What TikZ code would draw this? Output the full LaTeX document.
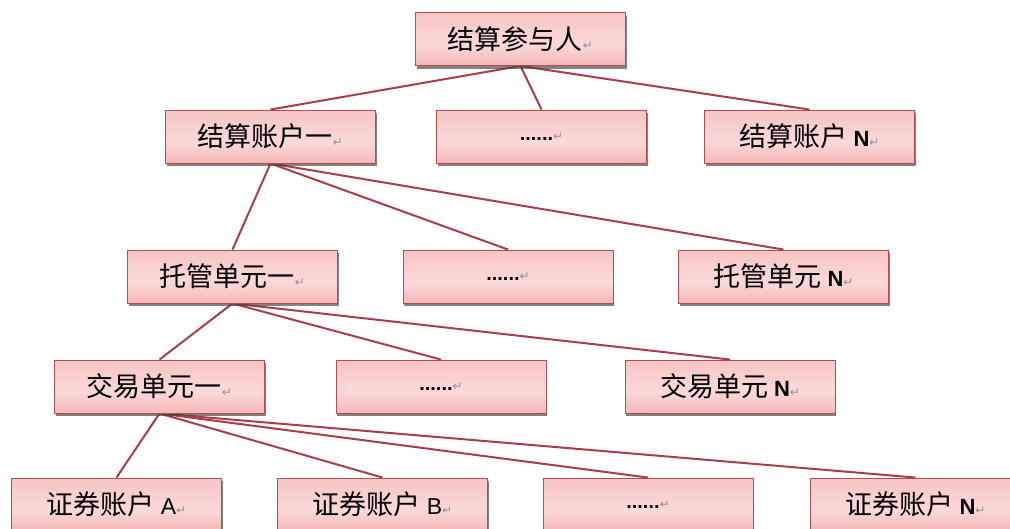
\documentclass[tikz,border=0pt]{standalone}
\usepackage{fontspec}
\setmainfont{Noto Sans CJK SC}
\newfontfamily\latinfont{Liberation Sans}
\newfontfamily\markfont{DejaVu Sans}
\usetikzlibrary{shadows,backgrounds}
\definecolor{pinkT}{HTML}{F6BDBD}
\definecolor{pinkM}{HTML}{FBD9D9}
\definecolor{pinkB}{HTML}{EF8C8C}
\definecolor{boxborder}{HTML}{B04E52}
\definecolor{linkcol}{HTML}{A83E4A}
\definecolor{markgray}{HTML}{909090}
\pgfdeclareverticalshading{boxshade}{100bp}{color(0bp)=(pinkB); color(45bp)=(pinkM); color(85bp)=(pinkT); color(100bp)=(pinkT)}
\newcommand{\rmark}{{\markfont\fontsize{12}{12}\selectfont\color{markgray}↵}}
\newcommand{\lat}[1]{{\latinfont\fontsize{23}{23}\selectfont #1}}
\newcommand{\latb}[1]{{\latinfont\bfseries\fontsize{22}{22}\selectfont #1}}
\newcommand{\dotsx}{{\latinfont\bfseries\fontsize{20}{20}\selectfont ......}}
\tikzset{
  box/.style={draw=boxborder, line width=0.9pt, shading=boxshade,
    minimum width=210pt, minimum height=53pt, inner sep=0pt,
    font=\fontsize{27}{30}\selectfont,
    drop shadow={shadow xshift=1pt, shadow yshift=-3pt, fill=black!75, opacity=.65}},
  link/.style={draw=linkcol, line width=2pt}
}
\begin{document}
\begin{tikzpicture}[x=1pt,y=-1pt]
\useasboundingbox (0,0) rectangle (1010,528);
\clip (0,0) rectangle (1010,528);
% level 1
\node[box] (r) at (520.5,39) {结算参与人\rmark};
% level 2
\node[box] (s1) at (270.5,136.5) {结算账户一\rmark};
\node[box] (s2) at (541.5,136.5) {\dotsx\rmark};
\node[box] (s3) at (809.5,136.5) {结算账户 \latb{N}\rmark};
% level 3
\node[box] (t1) at (232.5,276.5) {托管单元一\rmark};
\node[box] (t2) at (508,276.5) {\dotsx\rmark};
\node[box] (t3) at (783.5,276.5) {托管单元 \latb{N}\rmark};
% level 4
\node[box] (j1) at (159.5,386.5) {交易单元一\rmark};
\node[box] (j2) at (441,386.5) {\dotsx\rmark};
\node[box] (j3) at (730,386.5) {交易单元 \latb{N}\rmark};
% level 5
\node[box] (z1) at (116.5,504.5) {证券账户 \lat{A}\rmark};
\node[box] (z2) at (382.5,504.5) {证券账户 \lat{B}\rmark};
\node[box] (z3) at (648,504.5) {\dotsx\rmark};
\node[box] (z4) at (915.5,504.5) {证券账户 \latb{N}\rmark};
\begin{scope}[on background layer]
\fill[white] (0,0) rectangle (1010,528);
\draw[link] (r.south) -- (s1.north);
\draw[link] (r.south) -- (s2.north);
\draw[link] (r.south) -- (s3.north);
\draw[link] (s1.south) -- (t1.north);
\draw[link] (s1.south) -- (t2.north);
\draw[link] (s1.south) -- (t3.north);
\draw[link] (t1.south) -- (j1.north);
\draw[link] (t1.south) -- (j2.north);
\draw[link] (t1.south) -- (j3.north);
\draw[link] (j1.south) -- (z1.north);
\draw[link] (j1.south) -- (z2.north);
\draw[link] (j1.south) -- (z3.north);
\draw[link] (j1.south) -- (z4.north);
\end{scope}
\end{tikzpicture}
\end{document}
